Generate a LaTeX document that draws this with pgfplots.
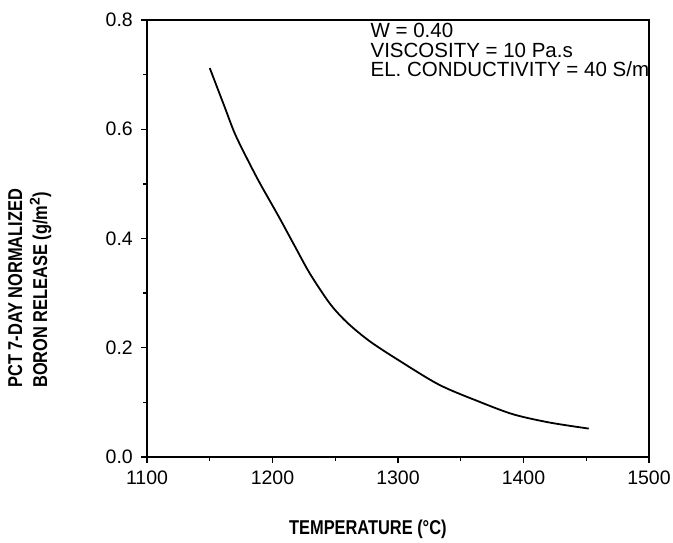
\documentclass[border=0pt]{standalone}
\usepackage{pgfplots}
\pgfplotsset{compat=1.18}
\usepackage{fontspec}
\setmainfont{Liberation Sans}
\newfontfamily\lblfont[FakeStretch=0.82]{Liberation Sans Bold}
\begin{document}
\begin{tikzpicture}
\begin{axis}[
  name=ax,
  scale only axis,
  width=502pt, height=437pt,
  xmin=1100, xmax=1500, ymin=0, ymax=0.8,
  xtick={1100,1200,1300,1400,1500},
  ytick={0,0.2,0.4,0.6,0.8},
  minor xtick={1150,1250,1350,1450},
  minor ytick={0.1,0.3,0.5,0.7},
  xtick pos=bottom, ytick pos=left,
  tick align=outside,
  major tick length=6pt, minor tick length=4pt,
  every tick/.style={line width=1.4pt, black},
  axis line style={line width=1.6pt},
  /pgf/number format/assume math mode=true,
  xticklabel style={/pgf/number format/1000 sep={}, font=\fontsize{19.5}{22}\selectfont, inner sep=0pt, yshift=-8pt},
  yticklabel style={/pgf/number format/fixed, /pgf/number format/fixed zerofill, /pgf/number format/precision=1, font=\fontsize{19.5}{22}\selectfont, inner sep=0pt, xshift=-8pt},
  xlabel={TEMPERATURE (\textdegree C)},
  xlabel style={font=\lblfont\fontsize{20}{22}\selectfont, at={(rel axis cs:0.44,0)}, anchor=north, yshift=-63pt, inner sep=0pt},
  ylabel={PCT 7-DAY NORMALIZED\\BORON RELEASE (g/m$^{\mathbf{2}}$)},
  ylabel style={font=\lblfont\fontsize{20}{25}\selectfont, rotate=0, align=left, at={(rel axis cs:-0.2769,0.158)}, anchor=north west, inner sep=0pt},
  clip=false,
]
\addplot[black, line width=1.8pt, smooth] coordinates {
(1150,0.712) (1155,0.682) (1162,0.640) (1170,0.592) (1180,0.545) (1190,0.501) (1205,0.440) (1218,0.385)
(1230,0.335) (1246,0.280) (1260,0.245) (1278,0.211) (1302,0.175) (1333,0.132)
(1365,0.101) (1392,0.078) (1421,0.063) (1452,0.052)
};
\node[anchor=north west, align=left, inner sep=0pt, font=\fontsize{20.5}{19.5}\selectfont] at (axis cs:1278,0.8) [yshift=-3pt] {W = 0.40\\VISCOSITY = 10 Pa.s\\EL. CONDUCTIVITY = 40 S/m};
\end{axis}
\path (ax.south west) ++(-147pt,-86pt) rectangle ++(673pt,543pt);
\end{tikzpicture}
\end{document}
